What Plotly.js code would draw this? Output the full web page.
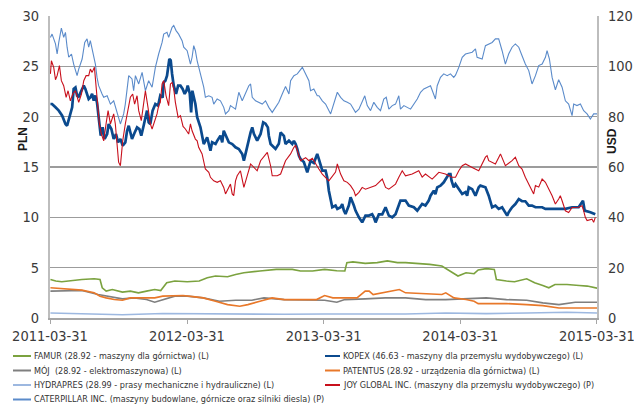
<!DOCTYPE html>
<html>
<head>
<meta charset="utf-8">
<script src="https://cdn.plot.ly/plotly-3.0.1.min.js"></script>
<style>
  html, body { margin: 0; padding: 0; background: #fff; }
  #chart { width: 634px; height: 405px; }
</style>
</head>
<body>
<div id="chart"></div>
<script>
// Tick labels on the date axis
const tickDates = ['2011-03-31', '2012-03-31', '2013-03-31', '2014-03-31', '2015-03-31'];

// Series values: [decimal year, value], PLN for (L), USD for (P)
const famur = [[2011.247,3.83],[2011.286,3.67],[2011.330,3.6],[2011.418,3.77],[2011.477,3.83],[2011.567,3.9],[2011.610,3.83],[2011.626,3.0],[2011.655,2.67],[2011.700,2.83],[2011.774,2.57],[2011.832,2.67],[2011.891,2.5],[2011.950,2.67],[2012.010,2.83],[2012.054,2.73],[2012.098,3.5],[2012.157,3.67],[2012.247,3.6],[2012.335,3.67],[2012.394,4.0],[2012.454,4.17],[2012.542,4.1],[2012.601,4.33],[2012.661,4.5],[2012.778,4.67],[2012.897,4.83],[2013.015,4.83],[2013.074,4.67],[2013.163,4.67],[2013.251,4.83],[2013.340,4.7],[2013.399,4.67],[2013.414,5.5],[2013.458,5.57],[2013.548,5.43],[2013.636,5.5],[2013.710,5.67],[2013.784,5.5],[2013.843,5.5],[2013.931,5.45],[2014.020,5.33],[2014.109,5.17],[2014.168,4.67],[2014.227,4.17],[2014.286,4.5],[2014.345,4.4],[2014.375,4.77],[2014.434,4.9],[2014.493,4.83],[2014.508,3.83],[2014.582,3.67],[2014.641,3.6],[2014.730,3.9],[2014.788,3.5],[2014.848,3.23],[2014.892,3.0],[2014.937,3.33],[2015.025,3.33],[2015.114,3.23],[2015.173,3.17],[2015.245,2.97]];

const kopex = [[2011.247,21.26],[2011.259,21.26],[2011.284,20.93],[2011.308,20.6],[2011.333,20.1],[2011.357,19.27],[2011.369,19.1],[2011.386,19.94],[2011.406,20.93],[2011.417,22.75],[2011.430,22.9],[2011.442,22.1],[2011.454,22.0],[2011.474,22.58],[2011.491,23.08],[2011.503,22.75],[2011.515,22.26],[2011.527,21.75],[2011.539,21.9],[2011.552,22.26],[2011.564,21.6],[2011.576,22.1],[2011.588,21.4],[2011.596,20.26],[2011.605,18.94],[2011.615,18.11],[2011.629,18.94],[2011.644,17.78],[2011.662,18.28],[2011.673,19.27],[2011.693,18.77],[2011.710,17.78],[2011.727,18.28],[2011.742,17.45],[2011.759,17.78],[2011.776,17.12],[2011.795,17.45],[2011.808,18.6],[2011.820,19.1],[2011.832,18.28],[2011.844,17.78],[2011.863,18.4],[2011.881,18.94],[2011.898,18.77],[2011.912,18.11],[2011.929,19.1],[2011.942,19.94],[2011.954,20.6],[2011.966,19.44],[2011.978,19.27],[2011.995,20.6],[2012.015,21.26],[2012.035,21.1],[2012.051,22.1],[2012.068,21.9],[2012.076,23.4],[2012.088,23.57],[2012.100,24.07],[2012.117,25.73],[2012.127,25.6],[2012.137,24.24],[2012.149,23.08],[2012.166,22.26],[2012.181,23.08],[2012.198,23.08],[2012.214,22.75],[2012.229,22.26],[2012.242,22.6],[2012.251,23.08],[2012.266,22.3],[2012.276,20.43],[2012.285,22.58],[2012.307,21.26],[2012.320,19.94],[2012.344,18.94],[2012.356,17.95],[2012.368,17.28],[2012.393,17.95],[2012.405,17.12],[2012.417,16.62],[2012.429,17.45],[2012.454,17.28],[2012.466,17.6],[2012.490,18.11],[2012.503,17.45],[2012.514,18.6],[2012.551,17.45],[2012.576,17.28],[2012.600,16.96],[2012.624,16.79],[2012.649,16.29],[2012.661,15.63],[2012.673,16.3],[2012.685,17.12],[2012.697,17.78],[2012.710,18.44],[2012.722,18.94],[2012.734,18.3],[2012.758,17.62],[2012.783,18.28],[2012.802,19.44],[2012.819,19.3],[2012.836,18.94],[2012.843,18.11],[2012.856,17.28],[2012.880,16.96],[2012.892,16.79],[2012.916,17.3],[2012.929,18.44],[2012.953,18.1],[2012.965,17.28],[2012.990,17.62],[2013.014,17.28],[2013.026,17.6],[2013.039,17.28],[2013.051,16.79],[2013.063,16.12],[2013.075,15.79],[2013.099,15.5],[2013.124,14.47],[2013.136,15.13],[2013.148,15.6],[2013.172,15.4],[2013.197,16.29],[2013.209,15.79],[2013.234,14.63],[2013.258,14.63],[2013.270,13.97],[2013.282,12.65],[2013.295,11.66],[2013.307,11.0],[2013.331,11.17],[2013.344,10.84],[2013.368,11.0],[2013.380,11.32],[2013.392,10.67],[2013.404,10.33],[2013.428,11.17],[2013.441,11.99],[2013.465,11.17],[2013.477,10.67],[2013.502,10.0],[2013.514,9.67],[2013.526,9.5],[2013.550,10.17],[2013.575,10.17],[2013.599,10.3],[2013.611,10.0],[2013.624,9.5],[2013.648,10.3],[2013.673,10.3],[2013.697,11.0],[2013.721,10.17],[2013.746,10.0],[2013.770,10.3],[2013.794,11.32],[2013.806,11.66],[2013.843,11.66],[2013.867,11.17],[2013.904,11.0],[2013.929,10.67],[2013.965,11.32],[2013.989,11.17],[2014.013,11.66],[2014.026,12.15],[2014.050,12.65],[2014.062,12.3],[2014.075,12.98],[2014.099,13.15],[2014.123,13.48],[2014.148,13.97],[2014.160,14.3],[2014.172,14.3],[2014.180,13.64],[2014.196,12.98],[2014.209,13.31],[2014.233,12.82],[2014.258,12.32],[2014.282,12.5],[2014.294,12.15],[2014.306,12.98],[2014.331,12.8],[2014.355,12.15],[2014.379,12.98],[2014.391,13.15],[2014.428,12.98],[2014.452,12.15],[2014.465,11.49],[2014.477,11.0],[2014.501,11.17],[2014.525,10.84],[2014.550,11.0],[2014.574,10.5],[2014.587,10.17],[2014.598,10.5],[2014.623,11.0],[2014.647,11.32],[2014.672,11.82],[2014.696,11.6],[2014.720,11.6],[2014.745,11.17],[2014.769,11.17],[2014.794,11.0],[2014.843,11.0],[2014.867,10.84],[2014.916,10.84],[2014.964,10.84],[2015.013,10.84],[2015.062,11.0],[2015.110,11.0],[2015.142,11.66],[2015.154,10.67],[2015.196,10.5],[2015.220,10.33],[2015.232,10.3]];

const moj = [[2011.247,2.67],[2011.330,2.67],[2011.477,2.73],[2011.596,2.33],[2011.655,2.17],[2011.714,2.0],[2011.774,1.9],[2011.862,2.0],[2011.950,1.83],[2012.010,1.57],[2012.069,1.83],[2012.157,2.17],[2012.247,2.17],[2012.364,2.0],[2012.483,1.67],[2012.601,1.77],[2012.719,1.77],[2012.808,2.0],[2012.956,1.83],[2013.133,1.83],[2013.251,1.77],[2013.340,1.57],[2013.399,1.83],[2013.548,1.9],[2013.695,2.0],[2013.843,2.0],[2013.991,1.83],[2014.138,1.83],[2014.286,1.9],[2014.434,2.0],[2014.582,1.83],[2014.730,1.77],[2014.848,1.5],[2014.966,1.33],[2015.085,1.57],[2015.245,1.57]];

const patentus = [[2011.247,3.0],[2011.330,2.9],[2011.477,2.77],[2011.567,2.5],[2011.610,2.17],[2011.655,2.0],[2011.714,1.83],[2011.774,1.77],[2011.832,2.0],[2011.921,2.0],[2012.010,2.0],[2012.069,2.17],[2012.128,2.17],[2012.217,2.23],[2012.305,2.1],[2012.364,2.0],[2012.454,1.67],[2012.542,1.33],[2012.631,1.17],[2012.690,1.33],[2012.778,1.67],[2012.867,2.0],[2012.956,1.83],[2013.074,1.83],[2013.192,1.83],[2013.251,2.23],[2013.311,2.0],[2013.399,2.0],[2013.488,2.0],[2013.548,2.67],[2013.577,2.67],[2013.606,2.33],[2013.665,2.5],[2013.725,2.67],[2013.798,2.83],[2013.843,2.5],[2013.931,2.45],[2014.020,2.33],[2014.109,2.33],[2014.138,2.5],[2014.198,2.0],[2014.286,1.83],[2014.345,1.67],[2014.375,1.43],[2014.434,1.45],[2014.582,1.43],[2014.730,1.33],[2014.848,1.23],[2014.966,1.0],[2015.085,1.0],[2015.245,1.0]];

const hydrapres = [[2011.247,0.5],[2011.477,0.43],[2011.774,0.33],[2012.069,0.45],[2012.364,0.43],[2012.661,0.35],[2012.956,0.37],[2013.251,0.4],[2013.548,0.37],[2013.843,0.4],[2014.138,0.5],[2014.434,0.43],[2014.730,0.5],[2015.025,0.57],[2015.245,0.5]];

const joyGlobal = [[2011.247,97.0],[2011.254,102.2],[2011.271,99.6],[2011.284,94.7],[2011.296,96.3],[2011.313,100.3],[2011.327,94.3],[2011.344,92.3],[2011.362,87.7],[2011.376,90.3],[2011.393,86.3],[2011.410,89.0],[2011.430,90.3],[2011.442,87.7],[2011.454,85.7],[2011.474,89.0],[2011.491,94.3],[2011.508,96.3],[2011.527,96.3],[2011.539,98.9],[2011.552,97.6],[2011.569,99.6],[2011.581,93.0],[2011.596,82.4],[2011.605,77.1],[2011.620,73.1],[2011.637,70.4],[2011.654,77.1],[2011.669,82.4],[2011.686,77.1],[2011.710,81.1],[2011.722,77.1],[2011.735,67.8],[2011.746,61.9],[2011.759,60.5],[2011.776,70.4],[2011.795,77.1],[2011.815,83.7],[2011.832,87.7],[2011.849,89.0],[2011.863,85.0],[2011.881,88.3],[2011.893,82.4],[2011.912,78.4],[2011.929,85.7],[2011.942,90.3],[2011.961,83.7],[2011.978,77.1],[2011.991,75.1],[2012.010,78.4],[2012.027,81.1],[2012.039,84.4],[2012.051,85.7],[2012.064,93.0],[2012.076,94.3],[2012.093,88.3],[2012.112,84.4],[2012.125,93.0],[2012.137,93.6],[2012.149,91.0],[2012.161,85.7],[2012.181,79.7],[2012.198,80.4],[2012.217,76.1],[2012.234,75.1],[2012.258,73.1],[2012.271,77.1],[2012.283,74.4],[2012.307,71.1],[2012.320,70.4],[2012.331,67.8],[2012.356,65.2],[2012.368,62.5],[2012.380,59.2],[2012.405,57.9],[2012.417,55.9],[2012.441,54.5],[2012.466,53.9],[2012.490,54.5],[2012.514,51.9],[2012.527,49.3],[2012.563,53.2],[2012.576,49.3],[2012.587,48.6],[2012.600,54.5],[2012.612,56.5],[2012.636,58.5],[2012.649,54.5],[2012.661,51.9],[2012.685,56.5],[2012.710,61.2],[2012.758,58.5],[2012.783,62.5],[2012.832,65.8],[2012.856,60.5],[2012.868,56.5],[2012.905,56.5],[2012.929,57.2],[2012.941,59.2],[2012.953,61.2],[2012.965,62.5],[2013.002,65.2],[2013.014,66.5],[2013.026,67.8],[2013.039,68.5],[2013.051,66.5],[2013.063,63.9],[2013.075,62.5],[2013.112,63.7],[2013.136,62.5],[2013.161,63.5],[2013.185,61.2],[2013.209,59.2],[2013.234,57.2],[2013.282,54.5],[2013.331,58.0],[2013.344,61.2],[2013.368,57.2],[2013.392,54.5],[2013.417,53.9],[2013.441,52.6],[2013.465,50.6],[2013.477,48.6],[2013.502,49.9],[2013.526,51.9],[2013.550,51.2],[2013.624,52.6],[2013.673,55.2],[2013.697,51.9],[2013.721,51.2],[2013.770,53.2],[2013.794,55.9],[2013.819,58.5],[2013.843,56.5],[2013.892,57.2],[2013.940,58.5],[2013.965,56.0],[2013.989,57.2],[2014.038,55.2],[2014.062,56.5],[2014.087,57.9],[2014.135,57.2],[2014.184,55.9],[2014.209,55.9],[2014.233,58.5],[2014.258,60.5],[2014.282,61.2],[2014.331,59.8],[2014.355,59.2],[2014.379,58.5],[2014.428,63.9],[2014.440,64.5],[2014.452,62.5],[2014.501,61.2],[2014.538,65.2],[2014.574,60.5],[2014.623,62.5],[2014.647,63.9],[2014.672,60.5],[2014.696,59.2],[2014.720,55.9],[2014.745,53.2],[2014.769,50.6],[2014.781,49.3],[2014.794,52.6],[2014.818,52.0],[2014.843,55.2],[2014.867,53.9],[2014.916,48.6],[2014.940,45.3],[2014.964,47.3],[2014.976,48.6],[2014.989,46.6],[2015.013,42.6],[2015.037,41.9],[2015.062,43.9],[2015.110,44.0],[2015.135,44.6],[2015.147,42.6],[2015.159,40.0],[2015.172,38.7],[2015.208,39.3],[2015.220,38.0],[2015.232,40.0]];

const caterpillar = [[2011.247,111.5],[2011.259,112.8],[2011.284,108.9],[2011.296,104.9],[2011.308,109.5],[2011.327,115.2],[2011.344,111.5],[2011.357,113.5],[2011.369,107.6],[2011.381,103.6],[2011.401,104.9],[2011.417,100.9],[2011.442,96.3],[2011.454,98.9],[2011.479,102.9],[2011.498,109.5],[2011.515,110.9],[2011.527,107.6],[2011.539,110.2],[2011.552,106.9],[2011.576,100.9],[2011.588,95.6],[2011.600,92.3],[2011.625,89.0],[2011.637,87.7],[2011.662,88.3],[2011.686,85.0],[2011.710,86.3],[2011.735,81.1],[2011.759,77.1],[2011.783,81.1],[2011.795,85.0],[2011.820,96.3],[2011.844,95.0],[2011.856,90.3],[2011.869,96.3],[2011.893,93.0],[2011.918,97.6],[2011.942,90.3],[2011.966,94.3],[2011.991,91.7],[2012.015,99.6],[2012.039,104.9],[2012.064,109.5],[2012.076,112.8],[2012.100,113.5],[2012.112,111.5],[2012.137,115.5],[2012.149,116.2],[2012.166,114.2],[2012.185,112.8],[2012.210,110.2],[2012.222,107.6],[2012.247,106.2],[2012.271,100.9],[2012.283,103.6],[2012.295,108.2],[2012.307,106.2],[2012.320,102.2],[2012.344,97.0],[2012.368,91.7],[2012.380,87.7],[2012.405,88.3],[2012.429,87.7],[2012.441,85.0],[2012.466,87.0],[2012.490,86.3],[2012.514,83.7],[2012.527,81.1],[2012.551,82.4],[2012.563,84.4],[2012.600,83.0],[2012.624,89.7],[2012.649,86.3],[2012.673,89.7],[2012.697,92.3],[2012.710,93.0],[2012.722,87.7],[2012.746,86.3],[2012.770,85.7],[2012.795,85.0],[2012.819,86.3],[2012.843,83.7],[2012.868,81.7],[2012.892,83.7],[2012.916,85.7],[2012.941,89.0],[2012.965,92.0],[2012.990,89.0],[2013.002,94.3],[2013.026,96.3],[2013.051,97.0],[2013.088,99.6],[2013.112,97.0],[2013.136,94.3],[2013.148,90.3],[2013.172,91.0],[2013.197,88.3],[2013.209,88.3],[2013.234,86.3],[2013.258,85.0],[2013.295,81.1],[2013.319,85.0],[2013.344,89.7],[2013.368,87.7],[2013.392,86.3],[2013.417,85.7],[2013.441,85.0],[2013.477,81.7],[2013.502,83.0],[2013.545,88.3],[2013.563,84.4],[2013.587,82.4],[2013.611,85.7],[2013.636,83.7],[2013.660,82.4],[2013.684,87.0],[2013.702,87.7],[2013.721,83.0],[2013.746,84.4],[2013.770,85.0],[2013.794,88.3],[2013.806,83.0],[2013.831,84.4],[2013.880,83.0],[2013.904,85.0],[2013.929,87.0],[2013.953,89.7],[2013.977,91.0],[2014.026,92.3],[2014.062,87.0],[2014.075,92.3],[2014.099,95.6],[2014.123,97.0],[2014.148,96.3],[2014.172,97.0],[2014.196,95.6],[2014.209,96.5],[2014.233,99.6],[2014.258,103.6],[2014.282,104.9],[2014.331,105.6],[2014.355,106.9],[2014.367,103.6],[2014.404,102.9],[2014.428,108.2],[2014.452,108.9],[2014.477,109.5],[2014.501,110.9],[2014.525,110.9],[2014.550,106.2],[2014.574,100.9],[2014.598,104.9],[2014.623,107.6],[2014.647,108.9],[2014.672,107.6],[2014.696,104.2],[2014.720,100.9],[2014.745,98.3],[2014.769,93.0],[2014.794,96.3],[2014.818,100.3],[2014.843,100.9],[2014.867,103.6],[2014.879,106.2],[2014.896,103.0],[2014.916,95.6],[2014.940,90.7],[2014.964,94.7],[2014.989,91.7],[2015.013,86.3],[2015.037,85.0],[2015.062,80.4],[2015.074,85.0],[2015.098,84.4],[2015.123,85.0],[2015.147,82.4],[2015.172,81.1],[2015.196,79.1],[2015.220,81.1],[2015.245,81.1]];

// Series list, in drawing order (bottom first); col/row = place in the legend
const series = [
    {name: 'CATERPILLAR INC. (maszyny budowlane, górnicze oraz silniki diesla) (P)', data: caterpillar, color: '#5b8bca', width: 1.1, axis: 'y2', col: 0, row: 3},
    {name: 'JOY GLOBAL INC. (maszyny dla przemysłu wydobywczego) (P)', data: joyGlobal, color: '#c8101c', width: 1.1, axis: 'y2', col: 1, row: 2},
    {name: 'HYDRAPRES (28.99 - prasy mechaniczne i hydrauliczne) (L)', data: hydrapres, color: '#9db8e0', width: 1.6, axis: 'y', col: 0, row: 2},
    {name: 'MÓJ  (28.92 - elektromaszynowa) (L)', data: moj, color: '#7f7f7f', width: 1.6, axis: 'y', col: 0, row: 1},
    {name: 'PATENTUS (28.92 - urządzenia dla górnictwa) (L)', data: patentus, color: '#e8782a', width: 1.6, axis: 'y', col: 1, row: 1},
    {name: 'FAMUR (28.92 - maszyny dla górnictwa) (L)', data: famur, color: '#7ba23f', width: 1.6, axis: 'y', col: 0, row: 0},
    {name: 'KOPEX (46.63 - maszyny dla przemysłu wydobywczego) (L)', data: kopex, color: '#0b4a8e', width: 2.7, axis: 'y', col: 1, row: 0}
];

// Decimal year -> date string
function toDate(y) {
    const yr = Math.floor(y);
    const t0 = Date.UTC(yr, 0, 1);
    const t1 = Date.UTC(yr + 1, 0, 1);
    return new Date(t0 + (y - yr) * (t1 - t0)).toISOString().slice(0, 16).replace('T', ' ');
}

// Plot area in pixels, used to place the legend below it
const plotLeft = 50, plotRight = 597, plotTop = 16, plotBottom = 318;
const px = x => (x - plotLeft) / (plotRight - plotLeft);
const py = y => (plotBottom - y) / (plotBottom - plotTop);

const fontNarrow = '"Liberation Sans Narrow", "Arial Narrow", "DejaVu Sans Condensed", sans-serif';

// Building traces
let traces = series.map(s => ({
    x: s.data.map(p => toDate(p[0])),
    y: s.data.map(p => p[1]),
    yaxis: s.axis,
    mode: 'lines',
    name: s.name,
    line: {color: s.color, width: s.width},
    showlegend: false
}));

// Legend drawn as annotations and short line shapes
const legendRows = [356, 370.5, 385, 399.5];
const legendCols = [{line: 13, text: 32}, {line: 325, text: 341}];
let annotations = [];
let shapes = [];
series.forEach(s => {
    const c = legendCols[s.col];
    const yy = py(legendRows[s.row]);
    shapes.push({
        type: 'line', xref: 'paper', yref: 'paper',
        x0: px(c.line), x1: px(c.text - 1), y0: yy, y1: yy,
        line: {color: s.color, width: 2}
    });
    annotations.push({
        xref: 'paper', yref: 'paper', x: px(c.text), y: yy,
        xanchor: 'left', yanchor: 'middle', showarrow: false,
        text: s.name, font: {family: fontNarrow, size: 9, color: '#333333'}
    });
});

// Axis titles
annotations.push({
    xref: 'paper', yref: 'paper', x: px(14), y: py(139), textangle: -90,
    showarrow: false, text: 'PLN', font: {family: 'Liberation Sans, Arial, sans-serif', size: 12, color: '#1a1a1a', weight: 'bold'}
});
annotations.push({
    xref: 'paper', yref: 'paper', x: px(621), y: py(141), textangle: -90,
    showarrow: false, text: 'USD', font: {family: 'Liberation Sans, Arial, sans-serif', size: 12, color: '#1a1a1a', weight: 'bold'}
});

const tickFont = {family: fontNarrow, size: 14.5, color: '#3a3a3a'};

const layout = {
    width: 634,
    height: 405,
    margin: {l: plotLeft, r: 634 - plotRight, t: plotTop, b: 405 - plotBottom},
    paper_bgcolor: '#ffffff',
    plot_bgcolor: '#ffffff',
    showlegend: false,
    xaxis: {
        type: 'date',
        range: [tickDates[0], tickDates[tickDates.length - 1] + ' 06:00'],
        tickvals: tickDates,
        ticktext: tickDates,
        tickfont: tickFont,
        ticklabeloverflow: 'allow',
        ticks: 'outside',
        ticklen: 4,
        tickcolor: '#a6a6a6',
        showgrid: false,
        zeroline: false,
        showline: true,
        linecolor: '#a6a6a6',
        linewidth: 1.5
    },
    yaxis: {
        range: [0, 30],
        dtick: 5,
        tickfont: tickFont,
        ticks: '',
        ticklabelstandoff: 6,
        showgrid: true,
        gridcolor: '#9c9c9c',
        gridwidth: 1.2,
        zeroline: false,
        showline: true,
        linecolor: '#bdbdbd',
        linewidth: 2
    },
    yaxis2: {
        range: [0, 120],
        dtick: 20,
        overlaying: 'y',
        side: 'right',
        tickfont: tickFont,
        ticks: '',
        ticklabelstandoff: 6,
        showgrid: false,
        zeroline: false,
        showline: true,
        linecolor: '#bdbdbd',
        linewidth: 2
    },
    annotations: annotations,
    shapes: shapes
};

Plotly.newPlot('chart', traces, layout, {staticPlot: true, displayModeBar: false});
</script>
</body>
</html>
